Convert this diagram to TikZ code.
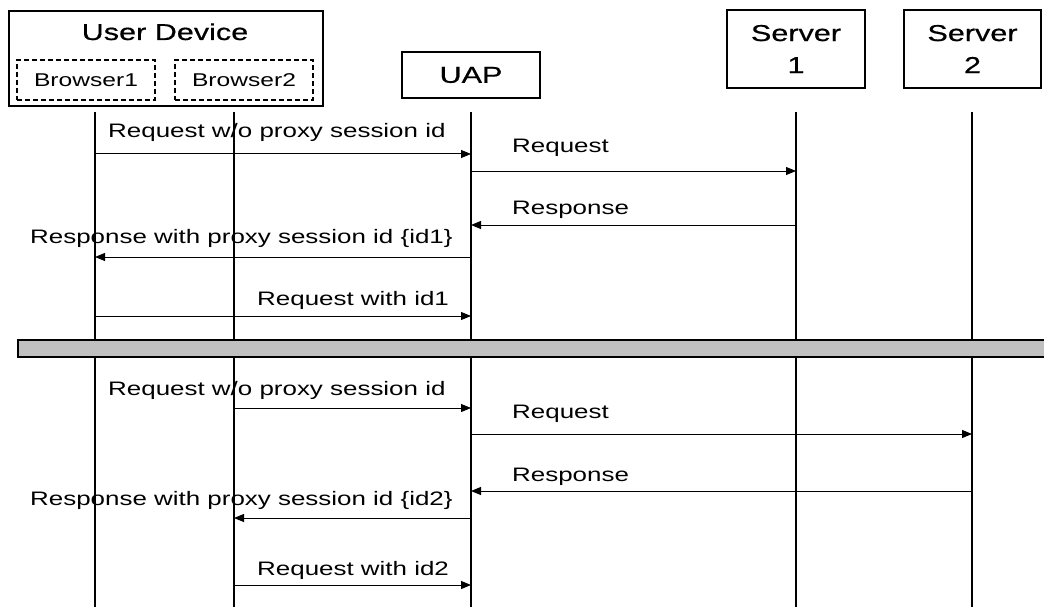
\documentclass[tikz,border=0pt]{standalone}
\usepackage{fontspec}
\setmainfont[FakeStretch=1.33]{Liberation Sans}
\newfontfamily\hdrfamily[FakeStretch=1.33, FakeBold=0.6]{Liberation Sans}
\usetikzlibrary{arrows.meta}

\definecolor{bargray}{RGB}{192,192,192}
\newcommand{\hdrfont}{\hdrfamily\fontsize{23}{32}\selectfont}
\newcommand{\brwfont}{\fontsize{18.5}{20}\selectfont}

\tikzset{
    hdrbox/.style={draw, line width=1.4pt, inner sep=0pt},
    brwbox/.style={draw, dash pattern=on 5pt off 3pt, line width=1.1pt,
        minimum width=138pt, minimum height=40pt, inner sep=0pt, font=\brwfont},
    lifeline/.style={line width=2.6pt},
    msg/.style={line width=1pt, -{Triangle[length=10pt,width=8pt]}},
    lbl/.style={inner sep=0pt, anchor=base west, font=\fontsize{19.5}{22}\selectfont},
}

\begin{document}
\begin{tikzpicture}[x=1pt, y=-1pt]
    \useasboundingbox (0,0) rectangle (1044,607);

    % heads
    \node[hdrbox, minimum width=314pt, minimum height=95pt] (dev) at (166,58.5) {};
    \node[inner sep=0pt, anchor=base, font=\hdrfont] (devname) at (165,40) {User Device};
    \node[brwbox] (brw1) at (86,80) {Browser1};
    \node[brwbox] (brw2) at (244,80) {Browser2};
    \node[hdrbox, minimum width=138pt, minimum height=46pt, font=\hdrfont] (uap) at (471,75) {UAP};
    \node[hdrbox, minimum width=138pt, minimum height=78pt, align=center, font=\hdrfont] (srv1) at (796,49) {Server\\1};
    \node[hdrbox, minimum width=137pt, minimum height=78pt, align=center, font=\hdrfont] (srv2) at (972.5,49) {Server\\2};

    % labels
    \node[lbl] (l1) at (108,138) {Request w/o proxy session id};
    \node[lbl] (l2) at (512,153) {Request};
    \node[lbl] (l3) at (512,214) {Response};
    \node[lbl] (l4) at (30,243) {Response with proxy session id \{id1\}};
    \node[lbl] (l5) at (257,305) {Request with id1};
    \node[lbl] (l6) at (108,395) {Request w/o proxy session id};
    \node[lbl] (l7) at (512,418) {Request};
    \node[lbl] (l8) at (512,481) {Response};
    \node[lbl] (l9) at (30,505) {Response with proxy session id \{id2\}};
    \node[lbl] (l10) at (257,575) {Request with id2};

    % lifelines
    \foreach \name/\x in {b1/95, b2/234, ua/471, s1/796, s2/972} {
        \coordinate (\name top) at (\x,112);
        \coordinate (\name bot) at (\x,607);
        \draw[lifeline] (\name top) -- (\name bot);
    }

    \foreach \r/\y in {1/154, 2/171, 3/225, 4/257, 5/316, 6/408, 7/434, 8/491, 9/518, 10/585}
        \coordinate (r\r) at (0,\y);

    % messages
    \draw[msg] (b1top |- r1) -- (uatop |- r1);
    \draw[msg] (uatop |- r2) -- (s1top |- r2);
    \draw[msg] (s1top |- r3) -- (uatop |- r3);
    \draw[msg] (uatop |- r4) -- (b1top |- r4);
    \draw[msg] (b1top |- r5) -- (uatop |- r5);

    \draw[msg] (b2top |- r6) -- (uatop |- r6);
    \draw[msg] (uatop |- r7) -- (s2top |- r7);
    \draw[msg] (s2top |- r8) -- (uatop |- r8);
    \draw[msg] (uatop |- r9) -- (b2top |- r9);
    \draw[msg] (b2top |- r10) -- (uatop |- r10);

    % separator
    \draw[fill=bargray, line width=1.5pt] (18,340) rectangle (1050,357);
\end{tikzpicture}
\end{document}
